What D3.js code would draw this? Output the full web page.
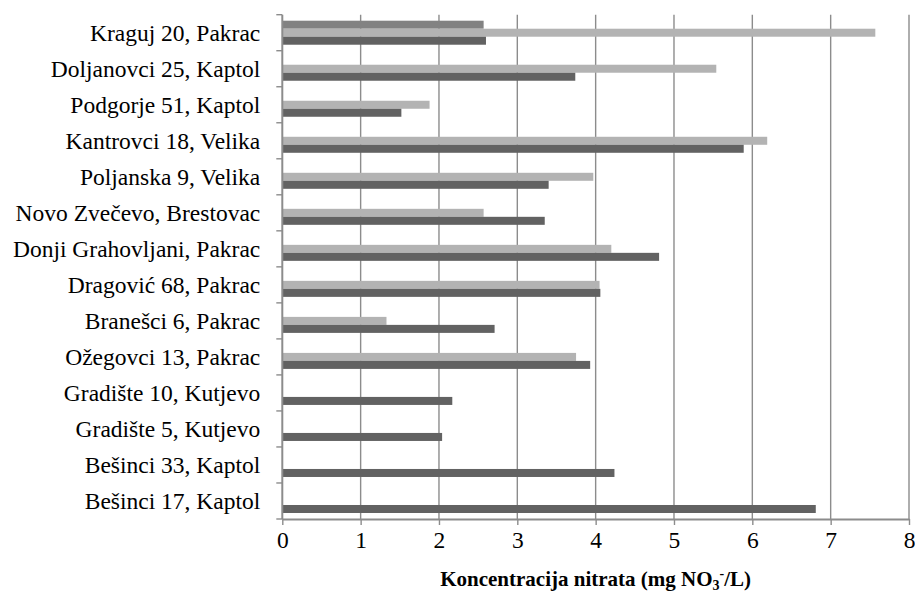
<!DOCTYPE html>
<html>
<head>
<meta charset="utf-8">
<script src="https://cdn.jsdelivr.net/npm/d3@7"></script>
<style>
  body { margin: 0; background: #fff; }
  text { font-family: "Liberation Serif", "Times New Roman", serif; fill: #000; }
</style>
</head>
<body>
<div id="chart"></div>
<script>
// categories, top to bottom
const categories = [
    "Kraguj 20, Pakrac", "Doljanovci 25, Kaptol", "Podgorje 51, Kaptol",
    "Kantrovci 18, Velika", "Poljanska 9, Velika", "Novo Zvečevo, Brestovac",
    "Donji Grahovljani, Pakrac", "Dragović 68, Pakrac", "Branešci 6, Pakrac",
    "Ožegovci 13, Pakrac", "Gradište 10, Kutjevo", "Gradište 5, Kutjevo",
    "Bešinci 33, Kaptol", "Bešinci 17, Kaptol"
]
// three series, null = no measurement
const series1 = [2.57, null, null, null, null, null, null, null, null, null, null, null, null, null]
const series2 = [7.57, 5.54, 1.88, 6.19, 3.97, 2.57, 4.20, 4.05, 1.33, 3.75, null, null, null, null]
const series3 = [2.60, 3.74, 1.52, 5.89, 3.40, 3.35, 4.81, 4.06, 2.71, 3.93, 2.17, 2.04, 4.24, 6.81]
const seriesNames = ["s1", "s2", "s3"]
const xTicks = [0, 1, 2, 3, 4, 5, 6, 7, 8]

const colors = { s1: "#828282", s2: "#b3b3b3", s3: "#626262" }

const W = 915, H = 593
const margin = { top: 14.7, left: 282.3, right: 6, bottom: 74 }
const width = W - margin.left - margin.right
const height = H - margin.top - margin.bottom

const svg = d3.select("#chart").append("svg")
    .attr("width", W).attr("height", H)
    .append("g")
    .attr("transform", `translate(${margin.left}, ${margin.top})`)

const x = d3.scaleLinear().domain([0, 8]).range([0, 626.7])
const y = d3.scaleBand().domain(categories).range([0, height])
    .paddingInner(1 / 3).paddingOuter(1 / 6)
const ySub = d3.scaleBand().domain(seriesNames).range([0, y.bandwidth()])

// table built from the arrays
const rows = categories.map((c, i) => ({
    cat: c,
    vals: [
        { key: "s1", v: series1[i] },
        { key: "s2", v: series2[i] },
        { key: "s3", v: series3[i] }
    ].filter(d => d.v !== null)
}))

// vertical grid lines
svg.selectAll(".grid")
    .data(xTicks.slice(1))
    .enter().append("line")
    .attr("class", "grid")
    .attr("x1", d => x(d)).attr("x2", d => x(d))
    .attr("y1", 0).attr("y2", height)
    .attr("stroke", "#8c8c8c").attr("stroke-width", 1.4)

// bars
const groups = svg.selectAll(".cat")
    .data(rows)
    .enter().append("g")
    .attr("class", "cat")
    .attr("transform", d => `translate(0, ${y(d.cat)})`)

groups.selectAll("rect")
    .data(d => d.vals)
    .enter().append("rect")
    .attr("x", 0)
    .attr("y", d => ySub(d.key))
    .attr("width", d => x(d.v))
    .attr("height", ySub.bandwidth())
    .attr("fill", d => colors[d.key])

// x axis
const xAxis = svg.append("g")
    .attr("transform", `translate(0, ${height})`)
    .call(d3.axisBottom(x).tickValues(xTicks).tickSize(6).tickSizeOuter(0).tickPadding(6))
xAxis.select(".domain").attr("stroke", "#8c8c8c").attr("stroke-width", 2)
xAxis.selectAll(".tick line").attr("stroke", "#8c8c8c").attr("stroke-width", 1.4)
xAxis.selectAll(".tick text")
    .attr("font-size", "23.5px")
    .attr("font-family", "Liberation Serif")

// y axis: ticks at band boundaries
const step = y.step()
const yBounds = d3.range(categories.length + 1).map(i => i * step)
svg.selectAll(".ytick")
    .data(yBounds)
    .enter().append("line")
    .attr("x1", -6).attr("x2", 0)
    .attr("y1", d => d).attr("y2", d => d)
    .attr("stroke", "#8c8c8c").attr("stroke-width", 1.4)
svg.append("line")
    .attr("x1", 0).attr("x2", 0).attr("y1", 0).attr("y2", height)
    .attr("stroke", "#8c8c8c").attr("stroke-width", 2)

svg.selectAll(".ylabel")
    .data(categories)
    .enter().append("text")
    .attr("x", -22)
    .attr("y", d => y(d) + y.bandwidth() / 2 + 8)
    .attr("text-anchor", "end")
    .attr("font-size", "23.5px")
    .text(d => d)

// axis title
const title = svg.append("text")
    .attr("x", x(4))
    .attr("y", height + 67)
    .attr("text-anchor", "middle")
    .attr("font-size", "21px")
    .attr("font-weight", "bold")
title.append("tspan").text("Koncentracija nitrata (mg NO")
title.append("tspan").text("3").attr("font-size", "14px").attr("dy", 4)
title.append("tspan").text("-").attr("font-size", "14px").attr("dy", -12)
title.append("tspan").text("/L)").attr("dy", 8)
</script>
</body>
</html>
